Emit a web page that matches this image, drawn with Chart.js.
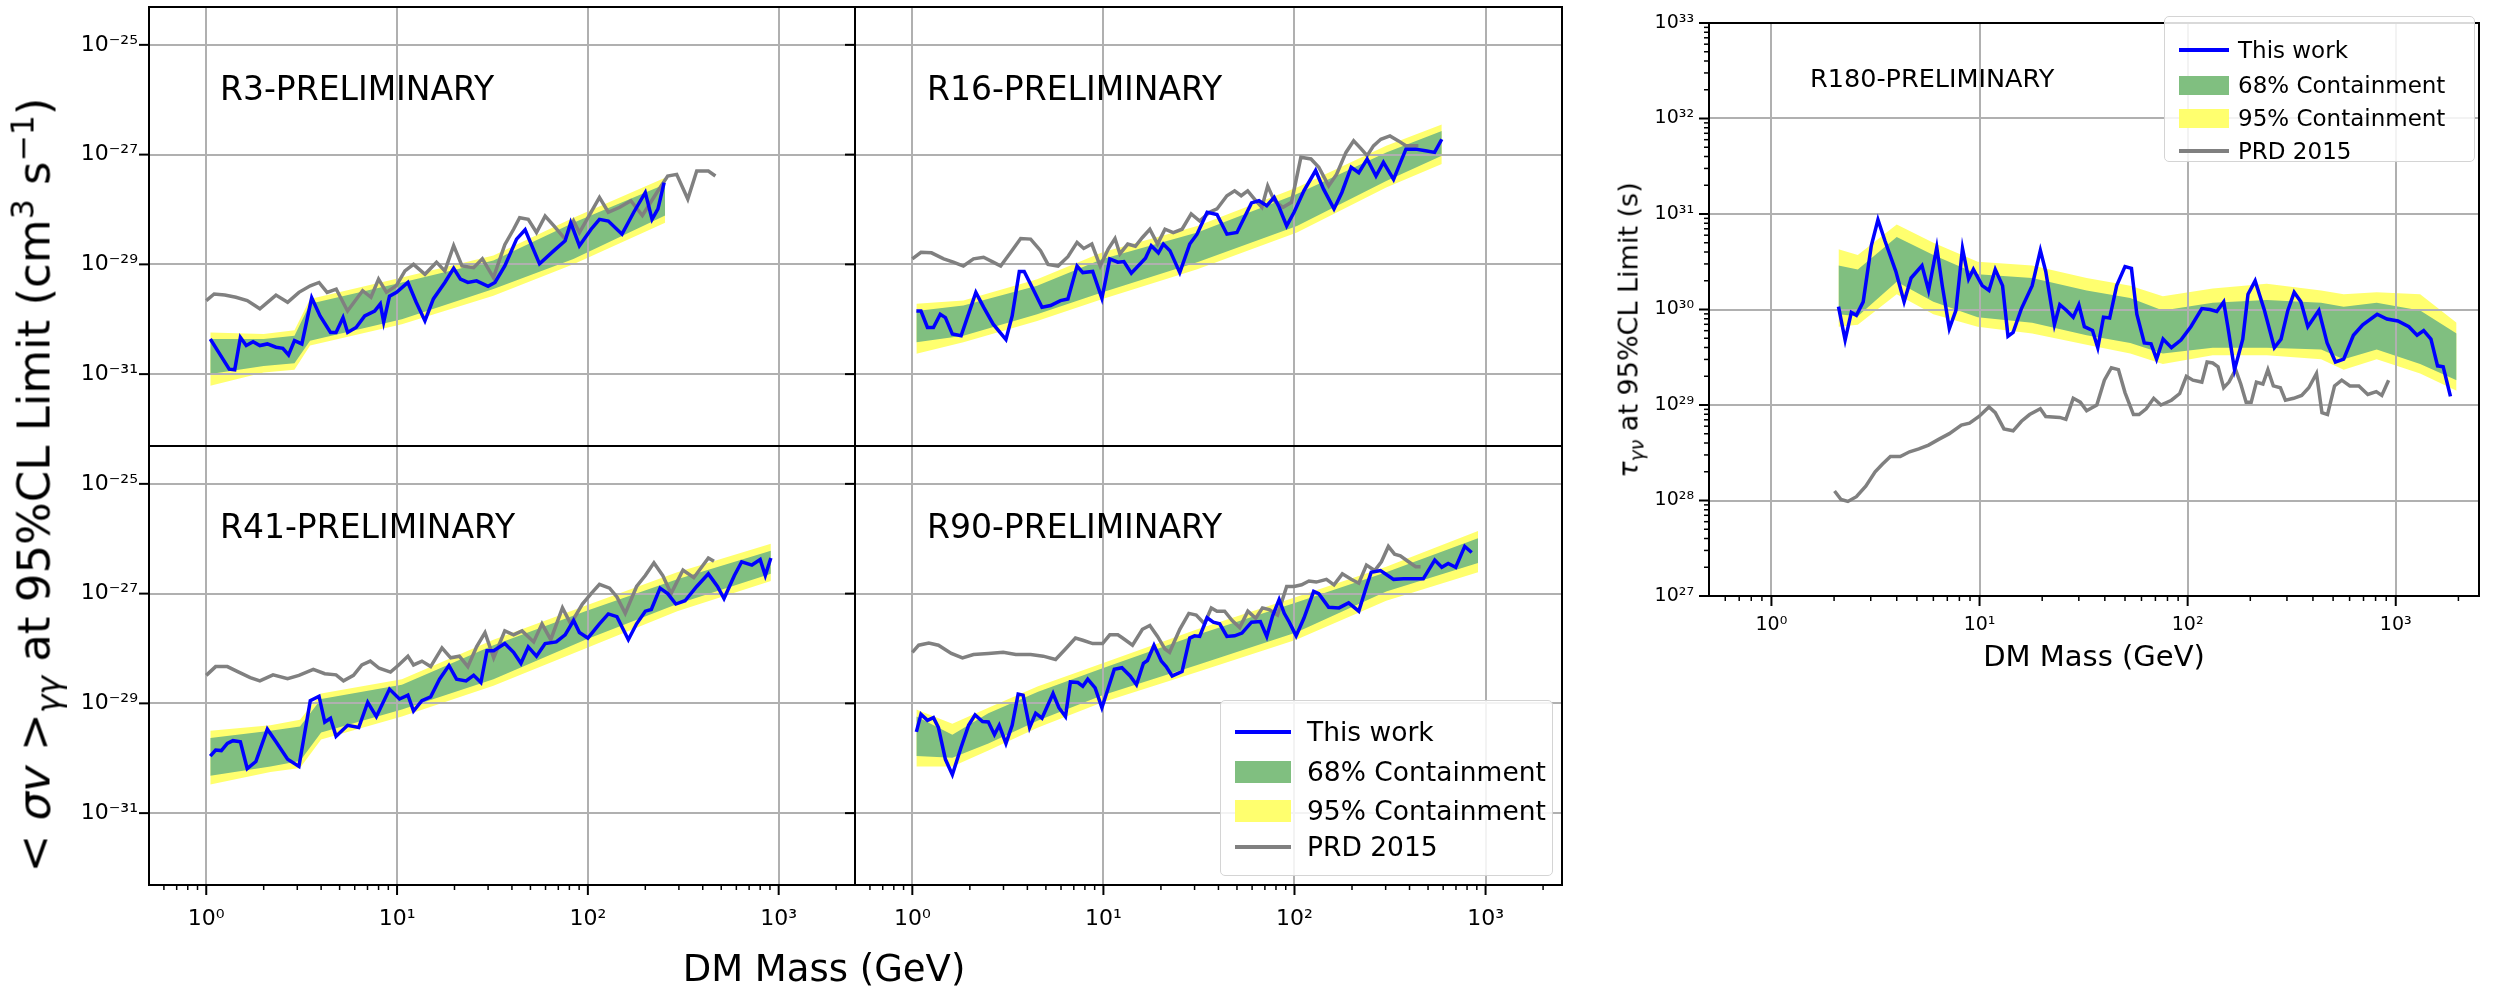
<!DOCTYPE html>
<html>
<head>
<meta charset="utf-8">
<title>DM line search limits</title>
<script src="https://cdn.jsdelivr.net/npm/chart.js@4.4.1/dist/chart.umd.min.js"></script>
<style>
  body { margin: 0; background: #fff; }
  #page { position: relative; width: 2496px; height: 990px; overflow: hidden; background: #fff;
          font-family: "DejaVu Sans", sans-serif; color: #000; }
  #page canvas { position: absolute; }
  .txt { position: absolute; white-space: nowrap; line-height: 1; }
  .txt sub, .txt sup { font-size: 70%; line-height: 0; }
  .legend { position: absolute; box-sizing: border-box; background: rgba(255,255,255,0.85);
            border: 1.5px solid #d4d4d4; border-radius: 5px; }
  .legend .sw { position: absolute; }
  .legend .lbl { position: absolute; white-space: nowrap; transform: translateY(-50%); line-height: 1; }
</style>
</head>
<body>
<div id="page">
  <canvas id="r3" width="870" height="460" style="left:0px;top:0px"></canvas>
  <canvas id="r16" width="732" height="460" style="left:845px;top:0px"></canvas>
  <canvas id="r41" width="870" height="540" style="left:0px;top:436px"></canvas>
  <canvas id="r90" width="732" height="540" style="left:845px;top:436px"></canvas>
  <canvas id="r180" width="856" height="680" style="left:1640px;top:0px"></canvas>

  <div class="txt" style="left:220px;top:88px;font-size:33px;transform:translateY(-50%)">R3-PRELIMINARY</div>
  <div class="txt" style="left:927px;top:88px;font-size:33px;transform:translateY(-50%)">R16-PRELIMINARY</div>
  <div class="txt" style="left:220px;top:526px;font-size:33px;transform:translateY(-50%)">R41-PRELIMINARY</div>
  <div class="txt" style="left:927px;top:526px;font-size:33px;transform:translateY(-50%)">R90-PRELIMINARY</div>
  <div class="txt" style="left:1810px;top:79px;font-size:25.5px;transform:translateY(-50%)">R180-PRELIMINARY</div>

  <div class="txt" style="left:34px;top:485px;font-size:45px;transform:translate(-50%,-50%) rotate(-90deg)">&lt; <i>σv</i> &gt;<sub><i>γγ</i></sub> at 95%CL Limit (cm<sup>3</sup> s<sup>−1</sup>)</div>
  <div class="txt" style="left:824px;top:968px;font-size:37px;transform:translate(-50%,-50%)">DM Mass (GeV)</div>
  <div class="txt" style="left:1628px;top:330px;font-size:27px;transform:translate(-50%,-50%) rotate(-90deg)"><i>τ</i><sub><i>γν</i></sub> at 95%CL Limit (s)</div>
  <div class="txt" style="left:2094px;top:656px;font-size:29px;transform:translate(-50%,-50%)">DM Mass (GeV)</div>

  <div class="legend" id="legendLeft" style="left:1220px;top:700px;width:333px;height:176px"></div>
  <div class="legend" id="legendRight" style="left:2164px;top:16px;width:311px;height:146px"></div>
</div>

<script>
// ---- tick labels (decade exponents) ----
const massTickExps = [0, 1, 2, 3];
const sigmaTickExps = [-31, -29, -27, -25];
const tauTickExps = [27, 28, 29, 30, 31, 32, 33];
const legendLabels = ['This work', '68% Containment', '95% Containment', 'PRD 2015'];

// ---- R3 (values are log10 of the limit) ----
const r3Mass = [1.05,1.16,1.32,1.41,1.51,1.62,1.76,1.91,2.09,2.32,2.52,2.70,2.90,3.17,3.57,3.95,4.48,4.79,5.21,5.51,6.10,6.77,7.63,8.17,8.51,9.13,9.94,11.4,12.6,14.0,15.5,17.8,19.8,21.5,23.5,26.1,30.0,32.6,36.7,42.3,46.9,55.8,66.4,76.0,81.3,90.3,104,115,128,151,174,200,217,233,251];
const r3Log = [-30.36,-30.60,-30.91,-30.92,-30.33,-30.48,-30.41,-30.48,-30.45,-30.51,-30.53,-30.65,-30.39,-30.45,-29.61,-29.94,-30.24,-30.24,-29.97,-30.24,-30.15,-29.94,-29.85,-29.72,-30.05,-29.58,-29.51,-29.33,-29.69,-30.03,-29.63,-29.33,-29.07,-29.27,-29.33,-29.30,-29.40,-29.33,-29.03,-28.54,-28.37,-28.99,-28.75,-28.57,-28.24,-28.66,-28.36,-28.18,-28.21,-28.45,-28.05,-27.69,-28.18,-27.99,-27.51];
const r3PrdMass = [1.0,1.1,1.25,1.43,1.64,1.91,2.32,2.67,3.06,3.51,3.9,4.3,4.8,5.5,6.6,7.3,8.0,8.8,9.9,11.0,12.2,14.0,16.1,17.8,19.8,21.9,25.2,28.0,32.0,36.7,40.8,43.9,48.7,53.8,59.7,66.4,76.0,84.2,90.3,104,115,128,147,168,193,230,262,292,334,372,428,466];
const r3PrdLog = [-29.66,-29.54,-29.56,-29.60,-29.66,-29.81,-29.56,-29.69,-29.51,-29.39,-29.33,-29.51,-29.45,-29.85,-29.48,-29.60,-29.27,-29.51,-29.39,-29.12,-29.0,-29.18,-28.96,-29.12,-28.66,-29.03,-29.06,-28.90,-29.24,-28.64,-28.36,-28.15,-28.18,-28.42,-28.12,-28.30,-28.54,-28.21,-28.42,-28.05,-27.78,-28.05,-27.96,-27.84,-28.11,-27.69,-27.39,-27.36,-27.81,-27.30,-27.30,-27.39];
const r3BandMass = [1.05,2.0,2.9,3.5,10.6,32,84,254];
const r3Hi95 = [-30.24,-30.27,-30.20,-29.63,-29.24,-28.84,-28.15,-27.42];
const r3Hi68 = [-30.36,-30.36,-30.30,-29.72,-29.33,-28.93,-28.24,-27.54];
const r3Lo68 = [-31.00,-30.85,-30.80,-30.39,-30.00,-29.45,-28.90,-28.11];
const r3Lo95 = [-31.21,-30.97,-30.92,-30.48,-30.09,-29.57,-29.00,-28.24];

// ---- R16 ----
const r16Mass = [1.05,1.11,1.20,1.29,1.40,1.49,1.62,1.80,2.15,2.36,2.65,3.09,3.33,3.63,3.85,4.28,4.77,5.29,5.96,6.52,7.28,7.80,8.79,9.82,10.8,11.9,12.8,14.0,16.6,17.8,19.4,20.6,22.3,25.1,28.3,30.9,34.9,39.3,44.3,50.0,59.6,65.2,71.6,78.3,83.1,91.0,99.5,112,129,142,161,177,198,217,240,267,292,330,383,431,485,541,590];
const r16Log = [-29.85,-29.85,-30.15,-30.15,-29.91,-29.97,-30.27,-30.30,-29.51,-29.78,-30.09,-30.37,-29.94,-29.13,-29.13,-29.45,-29.78,-29.75,-29.66,-29.63,-29.03,-29.15,-29.13,-29.62,-28.90,-28.96,-28.95,-29.16,-28.89,-28.66,-28.79,-28.63,-28.75,-29.15,-28.63,-28.45,-28.05,-28.09,-28.45,-28.42,-27.88,-27.84,-27.93,-27.78,-27.96,-28.30,-28.05,-27.66,-27.29,-27.63,-27.99,-27.69,-27.23,-27.33,-27.08,-27.39,-27.14,-27.45,-26.90,-26.90,-26.93,-26.96,-26.72];
const r16PrdMass = [1.0,1.11,1.26,1.46,1.64,1.85,2.09,2.36,2.65,2.90,3.37,3.69,4.16,4.69,5.13,5.79,6.52,7.28,7.89,8.70,9.62,10.6,11.5,12.2,13.4,14.7,16.0,17.5,19.2,21.0,23.2,25.8,28.8,31.9,35.9,39.3,44.3,48.6,52.6,56.9,62.7,67.5,72.4,78.3,87.0,96.4,108,122,134,151,166,186,204,224,240,259,283,316,350,383,445];
const r16PrdLog = [-28.90,-28.78,-28.79,-28.90,-28.96,-29.03,-28.90,-28.87,-28.96,-29.03,-28.72,-28.53,-28.54,-28.75,-29.0,-29.03,-28.86,-28.60,-28.71,-28.63,-29.03,-28.72,-28.53,-28.81,-28.63,-28.67,-28.51,-28.36,-28.63,-28.36,-28.42,-28.36,-28.08,-28.21,-28.05,-27.99,-27.75,-27.66,-27.75,-27.66,-27.84,-27.96,-27.57,-27.84,-27.96,-27.87,-27.05,-27.08,-27.23,-27.57,-27.36,-26.96,-26.75,-26.90,-27.02,-26.84,-26.72,-26.66,-26.75,-26.84,-26.84];
const r16BandMass = [1.05,1.85,4.5,9.9,31,103,302,590];
const r16Hi95 = [-29.72,-29.66,-29.27,-28.78,-28.30,-27.60,-26.84,-26.45];
const r16Hi68 = [-29.85,-29.75,-29.39,-28.90,-28.42,-27.72,-26.96,-26.57];
const r16Lo68 = [-30.42,-30.30,-29.91,-29.51,-28.96,-28.30,-27.48,-27.02];
const r16Lo95 = [-30.63,-30.42,-30.03,-29.63,-29.09,-28.42,-27.60,-27.17];

// ---- R41 ----
const r41Mass = [1.05,1.12,1.20,1.29,1.38,1.51,1.64,1.82,2.09,2.32,2.67,3.06,3.51,3.90,4.18,4.48,4.79,5.51,6.30,7.02,7.79,9.13,10.3,11.4,12.2,13.5,15.0,16.7,18.7,20.5,23.0,25.2,27.5,29.6,32.1,36.7,40.8,44.6,48.7,53.8,59.7,68.3,76.0,84.2,90.3,100,115,128,142,163,180,200,215,239,262,289,323,372,428,478,517,586,640,724,800,851,910];
const r41Log = [-29.96,-29.85,-29.86,-29.73,-29.68,-29.70,-30.19,-30.06,-29.47,-29.70,-30.02,-30.15,-28.95,-28.87,-29.34,-29.27,-29.60,-29.40,-29.44,-28.98,-29.24,-28.74,-28.92,-28.85,-29.14,-28.95,-28.88,-28.56,-28.31,-28.56,-28.59,-28.49,-28.62,-28.04,-28.04,-27.91,-28.07,-28.27,-27.97,-28.14,-27.91,-27.88,-27.75,-27.49,-27.71,-27.81,-27.55,-27.37,-27.42,-27.84,-27.55,-27.32,-27.29,-26.90,-27.0,-27.19,-27.13,-26.87,-26.64,-26.87,-27.09,-26.67,-26.42,-26.48,-26.38,-26.67,-26.35];
const r41PrdMass = [1.0,1.12,1.29,1.48,1.70,1.91,2.24,2.67,3.06,3.64,4.18,4.79,5.24,5.91,6.54,7.24,8.06,9.24,10.2,11.4,12.2,13.5,15.0,17.2,19.1,21.2,23.5,26.1,28.9,32.1,36.7,40.8,45.2,52.0,57.5,63.9,73.6,81.3,93.6,104,115,130,142,157,180,200,222,247,273,315,359,428,458];
const r41PrdLog = [-28.49,-28.33,-28.33,-28.43,-28.53,-28.59,-28.48,-28.55,-28.49,-28.38,-28.46,-28.48,-28.59,-28.49,-28.30,-28.23,-28.36,-28.43,-28.30,-28.14,-28.30,-28.23,-28.33,-27.99,-28.17,-28.14,-28.33,-27.97,-27.71,-28.17,-27.68,-27.75,-27.68,-27.88,-27.55,-27.84,-27.26,-27.55,-27.19,-27.0,-26.83,-26.90,-27.06,-27.36,-26.87,-26.67,-26.44,-26.67,-27.0,-26.57,-26.71,-26.35,-26.41];
const r41BandMass = [1.05,2.17,3.1,4.0,10.6,32,97,294,910];
const r41Hi95 = [-29.50,-29.40,-29.30,-28.82,-28.56,-27.84,-27.22,-26.61,-26.09];
const r41Hi68 = [-29.63,-29.50,-29.42,-28.92,-28.66,-27.94,-27.32,-26.74,-26.22];
const r41Lo68 = [-30.32,-30.15,-30.05,-29.53,-29.11,-28.56,-27.84,-27.19,-26.64];
const r41Lo95 = [-30.48,-30.25,-30.18,-29.66,-29.24,-28.68,-28.00,-27.32,-26.77];

// ---- R90 ----
const r90Mass = [1.05,1.11,1.20,1.29,1.37,1.49,1.62,1.80,1.97,2.13,2.33,2.50,2.69,2.85,3.09,3.33,3.58,3.80,4.11,4.42,4.77,5.45,5.85,6.33,6.72,7.35,7.80,8.28,9.05,9.82,10.6,11.4,12.5,13.8,14.9,16.2,17.0,18.4,20.1,21.3,22.9,25.8,28.3,30.0,31.9,34.9,37.6,40.6,44.3,48.6,53.1,59.6,66.3,71.6,76.9,83.1,88.4,93.9,102,112,126,134,151,171,192,217,238,252,282,330,372,419,472,542,590,637,698,778,846];
const r90Log = [-29.52,-29.20,-29.31,-29.26,-29.44,-30.02,-30.30,-29.80,-29.40,-29.21,-29.33,-29.34,-29.57,-29.40,-29.73,-29.40,-28.83,-28.85,-29.44,-29.18,-29.27,-28.82,-29.08,-29.24,-28.61,-28.62,-28.69,-28.56,-28.72,-29.08,-28.72,-28.38,-28.35,-28.50,-28.66,-28.27,-28.22,-27.94,-28.23,-28.33,-28.50,-28.42,-27.81,-27.77,-27.78,-27.44,-27.52,-27.55,-27.78,-27.77,-27.72,-27.52,-27.51,-27.78,-27.40,-27.11,-27.36,-27.52,-27.77,-27.45,-26.96,-27.0,-27.25,-27.26,-27.17,-27.32,-26.87,-26.61,-26.58,-26.74,-26.73,-26.73,-26.73,-26.39,-26.52,-26.45,-26.52,-26.14,-26.25];
const r90PrdMass = [1.0,1.08,1.22,1.37,1.60,1.83,2.09,2.50,2.99,3.48,4.16,4.84,5.62,6.33,7.14,7.80,8.79,9.9,10.8,11.9,12.6,14.2,16.0,17.5,19.2,21.0,22.2,25.1,28.0,30.6,33.8,36.7,39.3,43.1,47.2,51.7,57.0,62.7,68.0,73.8,81.5,91,99.5,109,119,130,147,161,178,198,217,238,263,285,310,334,358,392,431,457];
const r90PrdLog = [-28.07,-27.94,-27.90,-27.94,-28.09,-28.17,-28.11,-28.09,-28.07,-28.11,-28.11,-28.14,-28.20,-28.01,-27.81,-27.85,-27.91,-27.91,-27.75,-27.75,-27.81,-27.94,-27.65,-27.58,-27.78,-28.01,-28.07,-27.65,-27.36,-27.39,-27.55,-27.26,-27.32,-27.32,-27.49,-27.62,-27.32,-27.45,-27.26,-27.29,-27.39,-26.87,-26.87,-26.84,-26.77,-26.79,-26.74,-26.84,-26.64,-26.74,-26.81,-26.48,-26.58,-26.42,-26.14,-26.28,-26.31,-26.41,-26.51,-26.51];
const r90BandMass = [1.05,1.62,2.5,4.55,9.9,31,102,302,913];
const r90Hi95 = [-29.11,-29.37,-29.08,-28.69,-28.27,-27.65,-27.06,-26.51,-25.86];
const r90Hi68 = [-29.24,-29.57,-29.18,-28.79,-28.36,-27.75,-27.16,-26.61,-25.99];
const r90Lo68 = [-29.96,-29.99,-29.73,-29.31,-28.85,-28.30,-27.71,-26.96,-26.44];
const r90Lo95 = [-30.15,-30.15,-29.86,-29.44,-28.98,-28.43,-27.84,-27.13,-26.61];

// ---- R180 (log10 of lifetime in s) ----
const r180Mass = [2.10,2.26,2.42,2.56,2.76,3.02,3.25,3.51,3.96,4.34,4.69,5.29,5.69,6.23,6.62,7.16,7.70,8.28,8.86,9.34,10.3,11.1,11.9,12.9,13.7,14.5,15.9,17.9,19.6,20.8,22.9,24.3,26.2,28.2,30.0,31.9,34.9,37.0,39.4,42.2,45.6,50.0,53.7,57.0,61.9,66.7,70.9,76.2,83.6,92.8,103.6,117,128,138,149,156,168,184,195,211,234,261,281,303,325,350,378,427,468,513,562,626,694,814,907,1024,1156,1266,1362,1476,1588,1690,1832];
const r180Log = [30.03,29.68,29.97,29.94,30.08,30.67,30.94,30.72,30.40,30.08,30.33,30.46,30.20,30.65,30.25,29.80,29.99,30.64,30.32,30.42,30.25,30.20,30.42,30.25,29.72,29.76,30.01,30.25,30.62,30.40,29.84,30.05,29.99,29.92,30.05,29.82,29.78,29.60,29.92,29.91,30.25,30.45,30.43,29.95,29.65,29.64,29.48,29.69,29.60,29.68,29.82,30.01,30.0,29.98,30.08,29.82,29.37,29.69,30.16,30.30,29.99,29.60,29.69,29.99,30.18,30.08,29.82,29.99,29.65,29.45,29.48,29.73,29.84,29.95,29.90,29.88,29.82,29.73,29.78,29.69,29.41,29.40,29.09];
const r180PrdMass = [2.01,2.16,2.33,2.56,2.84,3.15,3.41,3.73,4.16,4.61,5.11,5.69,6.36,7.16,8.18,8.95,9.94,11.1,11.9,13.1,14.5,15.9,17.4,19.6,20.8,24.3,26.0,28.2,30.5,32.7,36.6,39.8,43.0,46.5,50.0,54.9,58.4,63.2,68.7,74.4,83.6,91.6,98.6,106,117,124,132,140,149,158,170,180,191,202,214,230,243,258,279,295,323,353,382,416,442,470,508,550,602,665,734,806,857,924];
const r180PrdLog = [28.10,28.01,27.99,28.04,28.15,28.30,28.38,28.46,28.46,28.51,28.54,28.58,28.64,28.70,28.79,28.81,28.88,28.98,28.92,28.75,28.73,28.83,28.90,28.96,28.88,28.87,28.85,29.07,29.03,28.94,29.0,29.26,29.39,29.37,29.13,28.90,28.90,28.96,29.07,29.0,29.05,29.12,29.30,29.26,29.24,29.45,29.44,29.40,29.18,29.24,29.37,29.22,29.03,29.03,29.24,29.22,29.37,29.20,29.18,29.05,29.07,29.10,29.18,29.33,28.92,28.90,29.20,29.26,29.20,29.20,29.11,29.14,29.10,29.26];
const r180BandMass = [2.1,2.6,4.0,6.0,9.8,17.9,32.7,53,76,132,240,438,562,810,1310,1960];
const r180Hi95 = [30.63,30.57,30.89,30.70,30.50,30.46,30.33,30.25,30.14,30.22,30.27,30.20,30.16,30.18,30.16,29.86];
const r180Hi68 = [30.46,30.42,30.76,30.57,30.37,30.33,30.20,30.12,29.99,30.07,30.10,30.07,30.03,30.07,29.99,29.75];
const r180Lo68 = [29.95,29.93,30.29,30.08,29.92,29.86,29.73,29.65,29.54,29.60,29.60,29.58,29.48,29.58,29.43,29.26];
const r180Lo95 = [29.82,29.84,30.16,29.95,29.82,29.75,29.63,29.54,29.43,29.52,29.52,29.48,29.37,29.48,29.33,29.15];

// ---- styling ----
const FONT = "'DejaVu Sans', sans-serif";
const yellowFill = 'rgb(255,255,110)';
const greenFill = 'rgb(128,191,128)';
const blueLine = '#0000ff';
const grayLine = '#808080';
const gridGray = '#b0b0b0';
const lineW = 3.5;
const xMin = 10 ** -0.3, xMax = 10 ** 3.4;
const sigmaMin = 10 ** -32.31, sigmaMax = 10 ** -24.31;

const supMap = { '0': '⁰', '1': '¹', '2': '²', '3': '³', '4': '⁴', '5': '⁵', '6': '⁶', '7': '⁷', '8': '⁸', '9': '⁹', '-': '⁻' };
function decadeLabel(v) {
  const e = Math.round(Math.log10(v));
  if (Math.abs(v / 10 ** e - 1) > 1e-6) return '';
  return '10' + String(e).split('').map(c => supMap[c]).join('');
}

// decade ticks from the exponent list, plus 2..9 minor ticks if wanted
function makeTicks(exps, lo, hi, minor) {
  const out = [];
  const e0 = Math.floor(Math.log10(lo)), e1 = Math.ceil(Math.log10(hi));
  for (let e = e0; e <= e1; e++) {
    for (let m = 1; m <= 9; m++) {
      const v = m * 10 ** e;
      if (v < lo * 0.9999 || v > hi * 1.0001) continue;
      const major = m === 1 && exps.includes(e);
      if (major || (minor && m > 1)) out.push({ value: v, major: major });
    }
  }
  return out;
}

const pts = (mass, logs) => mass.map((m, i) => ({ x: m, y: 10 ** logs[i] }));

// grid goes over the bands but under the lines; frame + tick marks last
const panelDecor = {
  id: 'panelDecor',
  beforeDatasetDraw(chart, args) {
    if (args.index === 4) {
      chart.scales.x.drawGrid(chart.chartArea);
      chart.scales.y.drawGrid(chart.chartArea);
    }
  },
  afterDraw(chart, args, opts) {
    const { ctx, chartArea: a } = chart;
    const xs = chart.scales.x, ys = chart.scales.y;
    ctx.save();
    ctx.strokeStyle = '#000';
    const mark = (x0, y0, x1, y1, w) => {
      ctx.lineWidth = w; ctx.beginPath(); ctx.moveTo(x0, y0); ctx.lineTo(x1, y1); ctx.stroke();
    };
    if (opts.xMarks) xs.ticks.forEach(t => {
      const p = xs.getPixelForValue(t.value);
      mark(p, a.bottom, p, a.bottom + (t.major ? 10 : 5), t.major ? 2 : 1.5);
    });
    if (opts.yMarks) ys.ticks.forEach(t => {
      const p = ys.getPixelForValue(t.value);
      mark(a.left - (t.major ? 10 : 5), p, a.left, p, t.major ? 2 : 1.5);
    });
    ctx.lineWidth = 2;
    ctx.strokeRect(a.left, a.top, a.right - a.left, a.bottom - a.top);
    ctx.restore();
  }
};

function makePanel(p) {
  const ds = (mass, logs, extra) => Object.assign({
    data: pts(mass, logs), pointRadius: 0, borderWidth: 0, borderColor: 'transparent', fill: false, tension: 0
  }, extra);
  const gridColor = c => (c.tick && c.tick.major) ? gridGray : 'rgba(0,0,0,0)';
  new Chart(document.getElementById(p.id), {
    type: 'line',
    data: {
      datasets: [
        ds(p.bandMass, p.hi95, { fill: '+1', backgroundColor: yellowFill, order: 4 }),
        ds(p.bandMass, p.lo95, { order: 4 }),
        ds(p.bandMass, p.hi68, { fill: '+1', backgroundColor: greenFill, order: 3 }),
        ds(p.bandMass, p.lo68, { order: 3 }),
        ds(p.prdMass, p.prdLog, { borderColor: grayLine, borderWidth: lineW, order: 1 }),
        ds(p.mass, p.log, { borderColor: blueLine, borderWidth: lineW, order: 0 })
      ]
    },
    options: {
      responsive: false,
      animation: false,
      devicePixelRatio: 1,
      layout: { padding: { left: p.padL, right: p.padR, top: p.padT, bottom: p.padB } },
      plugins: {
        legend: { display: false },
        tooltip: { enabled: false },
        panelDecor: { xMarks: p.xLabels, yMarks: true }
      },
      scales: {
        x: {
          type: 'logarithmic', min: xMin, max: xMax, bounds: 'data',
          afterBuildTicks: s => { s.ticks = makeTicks(massTickExps, xMin, xMax, true); },
          afterFit: s => { s.height = p.xH; s.paddingLeft = 0; s.paddingRight = 0; },
          border: { display: false },
          grid: { drawTicks: false, lineWidth: 2, color: gridColor },
          ticks: {
            display: p.xLabels, autoSkip: false, maxRotation: 0, padding: p.xPad, color: '#000',
            font: { family: FONT, size: p.tickSize }, callback: v => decadeLabel(v)
          }
        },
        y: {
          type: 'logarithmic', min: p.yMin, max: p.yMax, bounds: 'data',
          afterBuildTicks: s => { s.ticks = makeTicks(p.yExps, p.yMin, p.yMax, p.yMinor); },
          afterFit: s => { s.width = p.yW; s.paddingTop = 0; s.paddingBottom = 0; },
          border: { display: false },
          grid: { drawTicks: false, lineWidth: 2, color: gridColor },
          ticks: {
            display: p.yLabels, autoSkip: false, padding: p.yPad, color: '#000',
            font: { family: FONT, size: p.tickSize }, callback: v => decadeLabel(v)
          }
        }
      }
    },
    plugins: [panelDecor]
  });
}

const sigmaAxis = { yMin: sigmaMin, yMax: sigmaMax, yExps: sigmaTickExps, yMinor: false, tickSize: 22, yPad: 11, xPad: 21 };

makePanel(Object.assign({ id: 'r3', padL: 0, padR: 15, padT: 7, padB: 14, yW: 149, xH: 0, xLabels: false, yLabels: true,
  mass: r3Mass, log: r3Log, prdMass: r3PrdMass, prdLog: r3PrdLog,
  bandMass: r3BandMass, hi95: r3Hi95, hi68: r3Hi68, lo68: r3Lo68, lo95: r3Lo95 }, sigmaAxis));
makePanel(Object.assign({ id: 'r16', padL: 10, padR: 15, padT: 7, padB: 14, yW: 0, xH: 0, xLabels: false, yLabels: false,
  mass: r16Mass, log: r16Log, prdMass: r16PrdMass, prdLog: r16PrdLog,
  bandMass: r16BandMass, hi95: r16Hi95, hi68: r16Hi68, lo68: r16Lo68, lo95: r16Lo95 }, sigmaAxis));
makePanel(Object.assign({ id: 'r41', padL: 0, padR: 15, padT: 10, padB: 0, yW: 149, xH: 91, xLabels: true, yLabels: true,
  mass: r41Mass, log: r41Log, prdMass: r41PrdMass, prdLog: r41PrdLog,
  bandMass: r41BandMass, hi95: r41Hi95, hi68: r41Hi68, lo68: r41Lo68, lo95: r41Lo95 }, sigmaAxis));
makePanel(Object.assign({ id: 'r90', padL: 10, padR: 15, padT: 10, padB: 0, yW: 0, xH: 91, xLabels: true, yLabels: false,
  mass: r90Mass, log: r90Log, prdMass: r90PrdMass, prdLog: r90PrdLog,
  bandMass: r90BandMass, hi95: r90Hi95, hi68: r90Hi68, lo68: r90Lo68, lo95: r90Lo95 }, sigmaAxis));
makePanel({ id: 'r180', padL: 0, padR: 17, padT: 23, padB: 0, yW: 69, xH: 84, xLabels: true, yLabels: true,
  yMin: 1e27, yMax: 1e33, yExps: tauTickExps, yMinor: true, tickSize: 19, yPad: 15, xPad: 18,
  mass: r180Mass, log: r180Log, prdMass: r180PrdMass, prdLog: r180PrdLog,
  bandMass: r180BandMass, hi95: r180Hi95, hi68: r180Hi68, lo68: r180Lo68, lo95: r180Lo95 });

// ---- legends (HTML, same four entries in both) ----
const legendSwatches = [
  { kind: 'line', color: blueLine },
  { kind: 'rect', color: greenFill },
  { kind: 'rect', color: yellowFill },
  { kind: 'line', color: grayLine }
];
function buildLegend(id, rowYs, swLeft, swW, rectH, textLeft, fontSize) {
  const box = document.getElementById(id);
  legendLabels.forEach((label, i) => {
    const sw = document.createElement('div');
    sw.className = 'sw';
    const h = legendSwatches[i].kind === 'line' ? 4 : rectH;
    sw.style.cssText = `left:${swLeft}px;top:${rowYs[i] - h / 2}px;width:${swW}px;height:${h}px;background:${legendSwatches[i].color}`;
    box.appendChild(sw);
    const t = document.createElement('div');
    t.className = 'lbl';
    t.style.cssText = `left:${textLeft}px;top:${rowYs[i]}px;font-size:${fontSize}px`;
    t.textContent = label;
    box.appendChild(t);
  });
}
buildLegend('legendLeft', [31, 71, 110, 146], 14, 56, 22, 86, 26.5);
buildLegend('legendRight', [33, 68, 101, 134], 14, 50, 19, 73, 23);
</script>
</body>
</html>
